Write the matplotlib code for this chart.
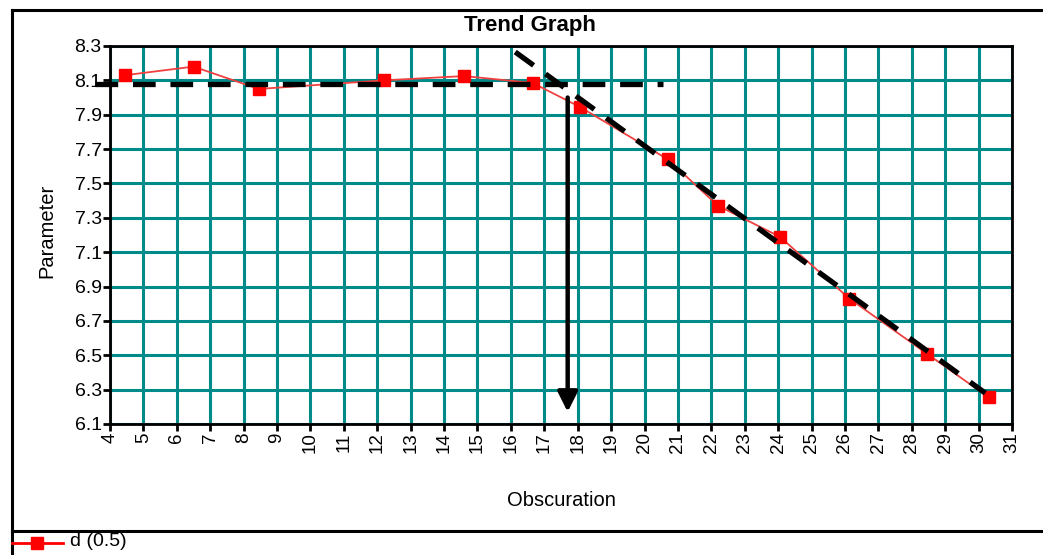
import matplotlib
matplotlib.use("Agg")
import matplotlib.pyplot as plt
from matplotlib.lines import Line2D

plt.rcParams['font.family'] = ['Liberation Sans', 'DejaVu Sans']

# Data
obs = [4.45, 6.5, 8.45, 12.2, 14.6, 16.65, 18.07, 20.7, 22.2, 24.05, 26.13, 28.45, 30.3]
param = [8.13, 8.18, 8.05, 8.10, 8.125, 8.085, 7.945, 7.64, 7.37, 7.19, 6.83, 6.51, 6.255]

x_ticks = list(range(4, 32))
y_ticks = [6.1, 6.3, 6.5, 6.7, 6.9, 7.1, 7.3, 7.5, 7.7, 7.9, 8.1, 8.3]
y_labels = ["6.1", "6.3", "6.5", "6.7", "6.9", "7.1", "7.3", "7.5", "7.7", "7.9", "8.1", "8.3"]

# Annotation lines (trend guides)
flat_x = [3.55, 20.55]
flat_y = [8.08, 8.08]
slope_x = [16.13, 30.2]
slope_y = [8.265, 6.28]
arrow_x = 17.7
arrow_y = [8.0, 6.17]

W, H = 1043, 555
fig = plt.figure(figsize=(W / 100, H / 100), dpi=100)
fig.patch.set_facecolor('white')

ax = fig.add_axes([110 / W, 1 - 424 / H, (1012 - 110) / W, (424 - 46) / H])
ax.set_xlim(4, 31)
ax.set_ylim(6.1, 8.3)
ax.set_xticks(x_ticks)
ax.set_xticklabels([str(v) for v in x_ticks], rotation=90, fontsize=13.5)
ax.set_yticks(y_ticks)
ax.set_yticklabels(y_labels, fontsize=14)
ax.tick_params(axis='both', direction='out', length=5, width=2, color='black', pad=1)
ax.grid(True, color='#008b8b', linewidth=2.2)
ax.set_axisbelow(True)
for s in ax.spines.values():
    s.set_linewidth(2)
    s.set_color('black')

ax.plot(obs, param, color='#f04040', linewidth=1.3, marker='s', markersize=8,
        markerfacecolor='#ff0000', markeredgecolor='#ff0000', zorder=3)

ax.plot(flat_x, flat_y, color='black', linewidth=3.8, linestyle=(0, (4.3, 2.8)),
        clip_on=False, zorder=4)
ax.plot(slope_x, slope_y, color='black', linewidth=3.8, linestyle=(0, (4.3, 2.8)),
        clip_on=False, zorder=4)
ax.annotate('', xy=(arrow_x, arrow_y[1]), xytext=(arrow_x, arrow_y[0]),
            arrowprops=dict(arrowstyle='-|>,head_length=0.6,head_width=0.3',
                            lw=3.2, color='black', mutation_scale=20,
                            shrinkA=0, shrinkB=0), zorder=5)

fig.text(530 / W, 1 - 25 / H, 'Trend Graph', ha='center', va='center',
         fontsize=16, fontweight='bold')
fig.text(561 / W, 1 - 500 / H, 'Obscuration', ha='center', va='center', fontsize=14.5)
fig.text(47 / W, 1 - 231 / H, 'Parameter', ha='center', va='center', fontsize=14.5,
         rotation=90)

# Outer frame lines
def fx(p):
    return p / W

def fy(p):
    return 1 - p / H

fig.add_artist(Line2D([fx(12), fx(W)], [fy(10), fy(10)], color='black', lw=2.2))
fig.add_artist(Line2D([fx(12), fx(12)], [fy(10), fy(H)], color='black', lw=2.2))
fig.add_artist(Line2D([fx(12), fx(W)], [fy(531), fy(531)], color='black', lw=2.2))

# Legend
fig.add_artist(Line2D([fx(12), fx(63)], [fy(543), fy(543)], color='#ff0000', lw=2))
fig.add_artist(Line2D([fx(37)], [fy(543)], color='#ff0000', marker='s', markersize=9,
                      linestyle='none'))
fig.text(fx(70), fy(542), 'd (0.5)', ha='left', va='center', fontsize=14)

fig.savefig('out.png', dpi=100, facecolor='white')
